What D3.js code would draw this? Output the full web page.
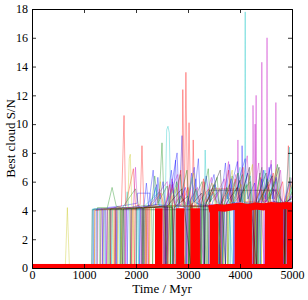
<!DOCTYPE html>
<html>
<head>
<meta charset="UTF-8" />
<script src="https://cdn.jsdelivr.net/npm/d3@7"></script>
<style>
  body { margin: 0; background: #fff; }
  svg text { font-family: "Liberation Serif", "DejaVu Serif", serif; }
</style>
</head>
<body>
<div id="app"></div>
<script>
// ---- data ----
const xTicks = [0, 1000, 2000, 3000, 4000, 5000];
const yTicks = [0, 2, 4, 6, 8, 10, 12, 14, 16, 18];

// individual runs: [time Myr, best S/N]
const runB1 = [[0,0],[1180,0],[1190,4.1],[1400,4.1],[1410,0],[1440,0],[1450,4.2],[1700,4.3],[2020,4.5],[2030,5.2],[2270,5.2],[2280,4.4],[2400,5.8],[2450,4.3],[2560,4.2],[2570,0],[2600,0],[2610,4.2],[2790,8.0],[2830,4.3],[2885,9.2],[2920,4.5],[3000,4.2],[3010,0],[3030,4.3],[3150,6.2],[3200,4.4],[3300,4.2],[3310,0],[3330,4.3],[3500,6.5],[3560,4.6],[3650,4.3],[3660,0],[3700,4.3],[3800,7.2],[3850,4.5],[4030,4.6],[4040,8.5],[4060,4.6],[4300,4.4],[4310,0],[4340,4.5],[4450,6.8],[4500,4.6],[4650,5.5],[4850,4.4],[4860,0],[4880,4.4],[5000,5.0]];
const runB2 = [[0,0],[1900,0],[1910,4.1],[2150,4.2],[2200,5.9],[2240,4.3],[2330,6.8],[2370,4.4],[2600,4.3],[2610,0],[2640,4.3],[2700,6.0],[2740,4.4],[2960,4.2],[2970,0],[2990,4.3],[3120,7.0],[3160,4.5],[3380,4.3],[3390,0],[3410,4.4],[3700,4.3],[3720,0],[3750,4.4],[3950,7.4],[3990,4.6],[4150,6.6],[4200,4.5],[4380,4.4],[4390,0],[4410,4.5],[4600,7.2],[4640,4.6],[4870,4.4],[4875,0],[4890,4.5],[5000,4.6]];
const runB3 = [[0,0],[1230,0],[1240,4.1],[1350,4.1],[1360,0],[1380,4.1],[1620,4.2],[1630,0],[1650,4.1],[1820,4.2],[1830,0],[1850,4.2],[2060,4.3],[2070,0],[2090,4.2],[2380,4.4],[2420,6.3],[2460,4.8],[2520,6.0],[2560,4.4],[2575,0],[2590,4.4],[2680,6.8],[2720,5.0],[2760,7.5],[2790,4.5],[2800,0],[2820,4.5],[2950,5.6],[3000,4.4],[3070,6.6],[3110,4.6],[3200,7.6],[3240,4.5],[3245,0],[3265,4.5],[3350,6.4],[3420,4.6],[3520,5.8],[3600,4.5],[3610,0],[3630,4.5],[3720,7.3],[3760,4.8],[3830,6.2],[3870,4.5],[3880,0],[3895,4.5],[4000,6.4],[4100,7.6],[4150,4.8],[4280,5.9],[4320,4.5],[4330,0],[4350,4.5],[4420,6.2],[4480,4.8],[4560,7.0],[4620,4.8],[4700,6.3],[4780,4.6],[4830,0],[4850,4.6],[4950,6.0],[5000,5.5]];
const runG1 = [[0,0],[1250,0],[1260,4.2],[1450,4.2],[1540,5.6],[1620,4.3],[1700,4.2],[1710,0],[1740,4.2],[1990,5.5],[2050,4.3],[2440,4.4],[2500,8.7],[2540,4.4],[2650,4.3],[2660,0],[2690,4.3],[2850,6.5],[2890,4.4],[3040,4.3],[3045,0],[3060,4.3],[3270,6.0],[3310,4.3],[3350,0],[3370,4.4],[3620,5.5],[3660,4.3],[3670,0],[3690,4.3],[3850,6.4],[3880,4.5],[4200,6.0],[4240,4.4],[4250,0],[4270,4.4],[4420,7.0],[4460,4.4],[4700,6.2],[4750,4.4],[4880,0],[4895,4.5],[5000,5.3]];
const runG2 = [[0,0],[1600,0],[1610,4.1],[1880,4.2],[1890,0],[1910,4.1],[2300,4.2],[2320,0],[2340,4.2],[2700,4.3],[2710,0],[2740,4.3],[2850,5.0],[3000,4.3],[3010,0],[3040,4.2],[3300,4.3],[3310,0],[3330,4.3],[3500,5.8],[3540,4.4],[3760,4.3],[3770,0],[3800,4.4],[4050,6.5],[4090,4.4],[4350,4.3],[4360,0],[4380,4.3],[4550,5.6],[4600,4.4],[5000,4.5]];
const runG3 = [[0,0],[1480,0],[1490,4.1],[1760,4.2],[1770,0],[1790,4.1],[2140,4.2],[2150,0],[2170,4.2],[2300,4.4],[2360,6.4],[2420,4.5],[2600,5.7],[2650,4.4],[2660,0],[2680,4.4],[2780,6.0],[2830,4.5],[2980,6.8],[3020,4.4],[3030,0],[3050,4.4],[3150,5.5],[3230,4.5],[3240,0],[3260,4.4],[3390,6.9],[3430,4.6],[3560,6.3],[3600,4.5],[3620,0],[3640,4.5],[3740,5.6],[3800,4.5],[3960,6.6],[4010,4.6],[4120,5.8],[4180,4.5],[4290,0],[4310,4.5],[4380,6.6],[4420,4.7],[4520,6.2],[4580,4.8],[4720,7.2],[4770,4.6],[4860,0],[4880,4.6],[4960,6.3],[5000,5.0]];
const runR1 = [[0,0],[1200,0],[1210,4.0],[1500,4.1],[1510,0],[1530,4.1],[1720,4.3],[1770,10.6],[1800,4.3],[1950,6.9],[1990,4.3],[2080,4.4],[2115,8.5],[2150,4.3],[2300,4.2],[2550,4.3],[2560,0],[2580,4.3],[2880,4.4],[2900,12.4],[2930,4.4],[2960,13.6],[2990,4.4],[3020,10.1],[3050,4.3],[3060,0],[3080,4.3],[3100,8.9],[3130,4.3],[3400,5.5],[3420,4.3],[3450,5.5],[4000,5.5],[4020,4.4],[4250,4.3],[4260,0],[4290,4.3],[4400,6.3],[4440,4.4],[4700,5.5],[4860,4.3],[4870,0],[4890,4.3],[4930,8.5],[4960,4.4],[5000,4.4]];
const runR2 = [[0,0],[1700,0],[1710,4.1],[1900,4.2],[1910,0],[1930,4.1],[2180,4.2],[2190,0],[2210,4.2],[2600,4.3],[2610,0],[2640,4.3],[2700,5.8],[2750,4.3],[3170,4.3],[3180,0],[3200,4.3],[3300,6.2],[3340,4.4],[3600,4.3],[3610,0],[3630,4.3],[3780,6.8],[3820,4.4],[4300,4.4],[4320,0],[4340,4.4],[4550,5.8],[4600,4.4],[4850,4.3],[4855,0],[4870,4.3],[5000,4.6]];
const runR3 = [[0,0],[1320,0],[1330,4.1],[1580,4.1],[1590,0],[1610,4.1],[1960,4.2],[1970,0],[1990,4.2],[2230,4.2],[2240,0],[2260,4.2],[2480,5.2],[2530,4.4],[2540,0],[2560,4.4],[2650,5.8],[2700,4.5],[2750,0],[2765,4.4],[2860,6.8],[2900,4.6],[3000,5.6],[3050,4.5],[3060,0],[3075,4.5],[3240,0],[3255,4.5],[3310,6.0],[3360,4.6],[3480,5.3],[3560,4.5],[3640,0],[3655,4.5],[3780,5.4],[3840,4.6],[3910,6.2],[3960,4.6],[4060,7.0],[4100,4.6],[4260,4.6],[4270,0],[4285,4.6],[4400,5.5],[4460,4.6],[4640,6.6],[4690,4.7],[4820,6.0],[4860,4.6],[4870,0],[4885,4.6],[5000,6.0]];
const runC1 = [[0,0],[1400,0],[1410,4.1],[1800,4.2],[1830,5.3],[1860,4.2],[2000,4.1],[2010,0],[2030,4.1],[2560,4.3],[2590,9.6],[2615,9.85],[2640,9.4],[2670,4.3],[2750,4.3],[2760,0],[2780,4.3],[3310,4.3],[3330,8.2],[3360,4.3],[3390,0],[3410,4.3],[3650,4.4],[3660,0],[3680,4.4],[3900,6.0],[3950,4.5],[4090,4.5],[4100,17.8],[4110,4.5],[4300,4.4],[4330,0],[4350,4.4],[4600,6.5],[4640,4.5],[4840,4.3],[4845,0],[4865,4.3],[4950,8.4],[4970,4.5],[5000,4.5]];
const runC2 = [[0,0],[1150,0],[1160,4.1],[1300,4.1],[1310,0],[1330,4.1],[2100,4.2],[2110,0],[2130,4.2],[2450,5.3],[2480,4.3],[2680,4.3],[2690,0],[2710,4.3],[2950,4.3],[2960,0],[2980,4.3],[3150,5.4],[3190,4.3],[3260,0],[3280,4.3],[3500,5.2],[3560,4.4],[3800,4.4],[3810,0],[3830,4.4],[4000,7.0],[4040,4.5],[4380,4.4],[4400,0],[4420,4.4],[4700,6.0],[4740,4.5],[5000,4.4]];
const runC3 = [[0,0],[1170,0],[1180,4.1],[1520,4.1],[1530,0],[1550,4.1],[1680,4.1],[1690,0],[1710,4.1],[2040,4.2],[2050,0],[2070,4.2],[2330,4.3],[2380,5.6],[2430,4.4],[2530,4.4],[2540,0],[2555,4.4],[2720,5.4],[2770,4.5],[2950,0],[2965,4.4],[3080,6.3],[3120,4.6],[3250,4.4],[3265,0],[3280,4.4],[3400,5.3],[3470,4.6],[3590,0],[3605,4.4],[3700,5.5],[3780,4.6],[3860,0],[3875,4.5],[3980,5.8],[4050,4.6],[4200,6.4],[4240,4.6],[4350,0],[4365,4.5],[4480,6.8],[4530,4.7],[4650,6.0],[4700,4.7],[4880,0],[4895,4.6],[5000,5.6]];
const runM1 = [[0,0],[1350,0],[1360,4.1],[1600,4.2],[1610,0],[1630,4.1],[1950,4.2],[1990,7.0],[2030,4.3],[2200,4.2],[2210,0],[2230,4.2],[2600,6.0],[2640,4.3],[2700,4.3],[2720,0],[2740,4.3],[3200,4.3],[3210,0],[3230,4.3],[3600,4.4],[3610,0],[3630,4.4],[3940,4.5],[3960,8.9],[3980,4.5],[4250,4.5],[4260,0],[4280,4.5],[4300,4.6],[4310,12.0],[4320,4.6],[4410,4.6],[4420,14.3],[4430,4.6],[4510,4.6],[4520,16.0],[4530,4.6],[4680,4.6],[4690,11.5],[4700,4.6],[4840,4.4],[4850,0],[4870,4.4],[5000,5.0]];
const runM2 = [[0,0],[1800,0],[1810,4.1],[2150,4.2],[2160,0],[2180,4.2],[2520,4.3],[2530,0],[2550,4.3],[2800,6.5],[2850,4.3],[2940,4.3],[2950,0],[2970,4.3],[3400,4.3],[3420,0],[3440,4.3],[3700,6.2],[3740,4.4],[3880,4.4],[3890,0],[3900,4.4],[4240,4.5],[4250,11.3],[4270,4.5],[4290,10],[4310,4.5],[4450,4.5],[4460,0],[4480,4.5],[4600,7.5],[4640,4.6],[4885,4.4],[4890,0],[4900,4.4],[5000,5.2]];
const runM3 = [[0,0],[1260,0],[1270,4.1],[1420,4.1],[1430,0],[1450,4.1],[1780,4.2],[1790,0],[1810,4.2],[2090,4.2],[2100,0],[2120,4.2],[2400,4.4],[2450,5.5],[2500,4.4],[2560,0],[2575,4.4],[2690,6.2],[2740,4.5],[2900,5.2],[2950,4.5],[2985,0],[3000,4.4],[3180,5.6],[3220,4.5],[3300,0],[3315,4.5],[3450,6.3],[3500,4.7],[3620,5.4],[3650,0],[3665,4.5],[3780,7.4],[3820,4.7],[3920,6.5],[3990,4.7],[4140,7.8],[4180,4.7],[4240,0],[4255,4.6],[4360,7.3],[4400,4.8],[4470,0],[4485,4.6],[4600,6.2],[4660,4.8],[4780,6.8],[4820,4.6],[4840,0],[4855,4.6],[5000,6.3]];
const runY1 = [[0,0],[640,0],[680,4.2],[720,0],[1300,0],[1310,4.1],[1550,4.1],[1560,0],[1580,4.1],[1840,4.2],[1870,7.6],[1890,7.9],[1920,4.3],[2100,4.2],[2110,0],[2130,4.2],[2560,4.3],[2570,0],[2590,4.3],[2700,5.5],[2740,4.3],[3000,4.3],[3010,0],[3030,4.3],[3250,4.3],[3260,0],[3280,4.3],[3550,5.6],[3600,4.4],[3620,0],[3640,4.4],[4300,4.5],[4310,0],[4330,4.5],[4540,6.0],[4560,4.5],[4830,4.4],[4840,0],[4860,4.4],[5000,4.5]];
const runY2 = [[0,0],[1200,0],[1210,4.1],[1450,4.1],[1460,0],[1480,4.1],[1700,4.2],[1710,0],[1730,4.1],[2250,4.2],[2260,0],[2280,4.2],[2650,4.3],[2660,0],[2680,4.3],[3100,4.3],[3110,0],[3130,4.3],[3370,4.3],[3380,0],[3400,4.3],[3750,4.4],[3760,0],[3780,4.4],[4150,4.5],[4170,6.5],[4200,4.5],[4400,4.5],[4410,0],[4430,4.5],[5000,4.5]];
const runY3 = [[0,0],[1370,0],[1380,4.1],[1640,4.1],[1650,0],[1670,4.1],[1930,4.2],[1940,0],[1960,4.2],[2180,4.2],[2190,0],[2210,4.2],[2420,4.4],[2470,6.0],[2510,4.4],[2620,0],[2635,4.4],[2780,5.6],[2820,4.5],[2940,0],[2955,4.4],[3110,6.6],[3150,4.5],[3260,0],[3275,4.4],[3460,5.9],[3520,4.5],[3680,0],[3695,4.5],[3850,6.8],[3880,4.6],[4030,5.8],[4080,4.6],[4240,7.2],[4270,4.6],[4340,0],[4355,4.5],[4500,5.5],[4560,4.6],[4700,6.9],[4740,4.6],[4870,0],[4885,4.5],[5000,5.8]];
const runK1 = [[0,0],[1150,0],[1160,4.05],[3400,4.05],[3410,5.4],[4700,5.4],[4710,4.4],[4850,4.4],[4860,0],[4880,4.4],[5000,4.5]];
const runK2 = [[0,0],[2000,0],[2010,4.2],[2700,4.2],[2710,0],[2730,4.2],[3000,5.0],[3040,4.3],[3580,4.3],[3590,0],[3610,4.3],[3800,5.8],[3850,4.4],[4000,6.1],[4050,4.4],[4260,4.4],[4270,0],[4290,4.4],[4500,6.6],[4540,4.5],[4750,7.0],[4790,4.5],[5000,4.8]];
const runK3 = [[0,0],[1500,0],[1510,4.1],[1730,4.1],[1740,0],[1760,4.1],[2120,4.2],[2130,0],[2150,4.2],[2560,4.3],[2580,0],[2600,4.3],[2880,5.5],[2920,4.4],[3060,0],[3075,4.4],[3260,5.2],[3300,4.4],[3320,0],[3340,4.4],[3620,6.8],[3660,4.5],[3720,0],[3740,4.5],[3950,5.6],[4000,4.6],[4180,7.0],[4210,4.6],[4320,0],[4340,4.5],[4620,6.4],[4660,4.6],[4850,4.5],[4860,0],[4880,4.5],[5000,4.9]];

// highlighted (thick red) run: base level, solid columns [start, end, top], ridge
const redBase = [[0, 0.28], [5000, 0.28]];
const redColumns = [[2365,2510,4.15],[2770,2930,4.15],[3050,3230,4.15],[3420,3580,4.3],[3900,4230,4.35],[4480,4830,4.4],[4900,5000,4.35]];
const redRidge = [[3400,4.1],[3550,4.2],[3700,4.15],[3850,4.25],[4000,4.3],[4150,4.2],[4300,4.3],[4450,4.25],[4600,4.35],[4750,4.3],[4900,4.35],[5000,4.3]];

const runs = [runB1, runG1, runR1, runC1, runM1, runY1, runK1,
              runB2, runG2, runR2, runC2, runM2, runY2, runK2,
              runB3, runG3, runR3, runC3, runM3, runY3, runK3];
const runColors = ["#0000ff", "#008000", "#ff0000", "#00bfbf", "#bf00bf", "#bfbf00", "#000000"];

// ---- chart ----
const w = 308, h = 300;
const m = { left: 32, right: 16, top: 9, bottom: 32 };
const serif = "'Liberation Serif', 'DejaVu Serif', serif";

const svg = d3.select("#app").append("svg")
  .attr("width", w).attr("height", h);

const x = d3.scaleLinear().domain([0, 5000]).range([m.left, w - m.right]);
const y = d3.scaleLinear().domain([0, 18]).range([h - m.bottom, m.top]);

svg.append("defs").append("clipPath").attr("id", "clip")
  .append("rect")
  .attr("x", m.left).attr("y", m.top)
  .attr("width", w - m.left - m.right).attr("height", h - m.top - m.bottom);

const plot = svg.append("g").attr("clip-path", "url(#clip)");
const line = d3.line().x(d => x(d[0])).y(d => y(d[1]));

plot.selectAll("path.run")
  .data(runs)
  .enter().append("path")
  .attr("class", "run")
  .attr("d", line)
  .attr("fill", "none")
  .attr("stroke", (d, i) => runColors[i % runColors.length])
  .attr("stroke-width", 0.7)
  .attr("stroke-opacity", 0.5);

// thick red
plot.append("rect")
  .attr("x", x(0)).attr("y", y(redBase[0][1]))
  .attr("width", x(5000) - x(0)).attr("height", y(0) - y(redBase[0][1]))
  .attr("fill", "#ff0000");

plot.selectAll("rect.col")
  .data(redColumns)
  .enter().append("rect")
  .attr("class", "col")
  .attr("x", d => x(d[0]))
  .attr("y", d => y(d[2]))
  .attr("width", d => x(d[1]) - x(d[0]))
  .attr("height", d => y(0) - y(d[2]))
  .attr("fill", "#ff0000");

plot.append("path")
  .attr("d", line(redRidge))
  .attr("fill", "none")
  .attr("stroke", "#ff0000")
  .attr("stroke-width", 7);

// axes (inward ticks on all sides)
const tick = 4;
const fmt = d3.format("d");
const xb = d3.axisBottom(x).tickValues(xTicks).tickFormat(fmt).tickSizeInner(-tick).tickSizeOuter(0).tickPadding(2);
const xt = d3.axisTop(x).tickValues(xTicks).tickSizeInner(-tick).tickSizeOuter(0).tickFormat("");
const yl = d3.axisLeft(y).tickValues(yTicks).tickFormat(fmt).tickSizeInner(-tick).tickSizeOuter(0).tickPadding(4);
const yr = d3.axisRight(y).tickValues(yTicks).tickSizeInner(-tick).tickSizeOuter(0).tickFormat("");

const gxb = svg.append("g").attr("transform", "translate(0," + y(0) + ")").call(xb);
const gxt = svg.append("g").attr("transform", "translate(0," + y(18) + ")").call(xt);
const gyl = svg.append("g").attr("transform", "translate(" + x(0) + ",0)").call(yl);
const gyr = svg.append("g").attr("transform", "translate(" + x(5000) + ",0)").call(yr);

[gxb, gxt, gyl, gyr].forEach(g => {
  g.attr("font-family", serif).attr("font-size", 12);
  g.select(".domain").attr("stroke", "#000").attr("stroke-width", 1);
  g.selectAll(".tick line").attr("stroke", "#000").attr("stroke-width", 0.8);
  g.selectAll("text")
    .style("font-family", serif)
    .style("font-size", "12px")
    .attr("fill", "#000");
});

svg.append("text")
  .attr("x", (x(0) + x(5000)) / 2).attr("y", 293)
  .attr("text-anchor", "middle")
  .style("font-family", serif)
  .style("font-size", "13px")
  .text("Time / Myr");

svg.append("text")
  .attr("transform", "translate(15," + (y(0) + y(18)) / 2 + ") rotate(-90)")
  .attr("text-anchor", "middle")
  .style("font-family", serif)
  .style("font-size", "13px")
  .text("Best cloud S/N");
</script>
</body>
</html>
